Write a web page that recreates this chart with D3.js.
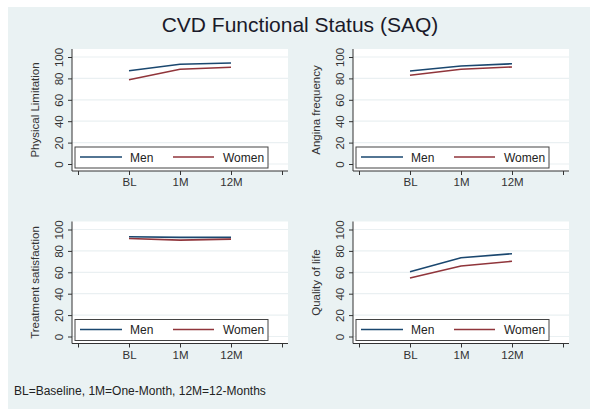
<!DOCTYPE html>
<html><head><meta charset="utf-8">
<script src="https://cdn.jsdelivr.net/npm/d3@7"></script>
<style>body{margin:0;background:#fff}svg{display:block;font-family:Arial,"Liberation Sans",Helvetica,sans-serif}</style>
</head><body>
<svg id="c" width="600" height="416"></svg>
<script>
const title = "CVD Functional Status (SAQ)";
const note = "BL=Baseline, 1M=One-Month, 12M=12-Months";
const timepoints = ["BL", "1M", "12M"];
const xTickLabels = ["", "BL", "1M", "12M", ""];
const yTicks = [0, 20, 40, 60, 80, 100];
const series = ["Men", "Women"];
const panelTitles = ["Physical Limitation", "Angina frequency", "Treatment satisfaction", "Quality of life"];
const menValues = [
  [87.2, 93.2, 94.4],
  [86.9, 91.6, 93.7],
  [93.2, 92.6, 92.6],
  [60.6, 73.6, 77.4]
];
const womenValues = [
  [78.8, 88.5, 90.4],
  [82.9, 88.5, 90.7],
  [91.6, 90.1, 91.0],
  [54.7, 65.9, 70.3]
];
const colors = ["#1a476f", "#90353b"];

const svg = d3.select("#c");
svg.append("rect").attr("x", 8).attr("y", 7).attr("width", 582).attr("height", 402).attr("fill", "#eaf2f3");
svg.append("text").attr("x", 300).attr("y", 32).attr("text-anchor", "middle")
  .attr("font-size", 21).attr("fill", "#1a1a2a").text(title);
svg.append("text").attr("x", 14).attr("y", 395).attr("font-size", 12).attr("fill", "#222").text(note);

const x = d3.scaleLinear().domain([0, 4]).range([78, 282]);
const y = d3.scaleLinear().domain([0, 100]).range([164, 57]);

panelTitles.forEach((pt, i) => {
  const col = i % 2, row = Math.floor(i / 2);
  const g = svg.append("g").attr("transform", `translate(${col * 281},${row * 172.5})`);
  g.append("rect").attr("x", 72).attr("y", 49).attr("width", 216).attr("height", 122).attr("fill", "#fff");
  g.selectAll(".grid").data(yTicks).enter().append("line")
    .attr("x1", 72).attr("x2", 288).attr("y1", d => y(d)).attr("y2", d => y(d))
    .attr("stroke", "#eaf0f2").attr("stroke-width", 1.2);
  const ya = d3.axisLeft(y).tickValues(yTicks).tickSize(4).tickPadding(3);
  const yg = g.append("g").attr("transform", "translate(72,0)").call(ya);
  yg.select(".domain").attr("d", "M0,49V171").attr("stroke", "#333");
  yg.selectAll(".tick line").attr("stroke", "#333");
  yg.selectAll(".tick text").attr("font-size", 11.5).attr("fill", "#333").each(function(){
    d3.select(this).attr("x", 0).attr("y", 0).attr("dy", null)
      .attr("transform", "translate(-9,0) rotate(-90)").attr("text-anchor", "middle");
  });
  const xa = d3.axisBottom(x).tickValues([0, 1, 2, 3, 4]).tickFormat((d, k) => xTickLabels[k]).tickSize(4).tickPadding(3);
  const xg = g.append("g").attr("transform", "translate(0,171)").call(xa);
  xg.select(".domain").attr("d", "M72,0H288").attr("stroke", "#333");
  xg.selectAll(".tick line").attr("stroke", "#333");
  xg.selectAll(".tick text").attr("font-size", 11.5).attr("fill", "#333");
  g.append("text").attr("transform", "translate(39,110) rotate(-90)").attr("text-anchor", "middle")
    .attr("font-size", 11.5).attr("fill", "#333").text(pt);
  const line = d3.line().x((d, k) => x(k + 1)).y(d => y(d));
  [menValues[i], womenValues[i]].forEach((vals, s) => {
    g.append("path").attr("d", line(vals)).attr("fill", "none").attr("stroke", colors[s]).attr("stroke-width", 1.6);
  });
  g.append("rect").attr("x", 75).attr("y", 147).attr("width", 193).attr("height", 21)
    .attr("fill", "#fff").attr("stroke", "#444").attr("stroke-width", 1);
  const legX = [[80, 122, 130], [173, 214, 223]];
  series.forEach((s, k) => {
    g.append("line").attr("x1", legX[k][0]).attr("x2", legX[k][1]).attr("y1", 157).attr("y2", 157)
      .attr("stroke", colors[k]).attr("stroke-width", 1.6);
    g.append("text").attr("x", legX[k][2]).attr("y", 161.5).attr("font-size", 12).attr("fill", "#222").text(s);
  });
});
</script>
</body></html>
